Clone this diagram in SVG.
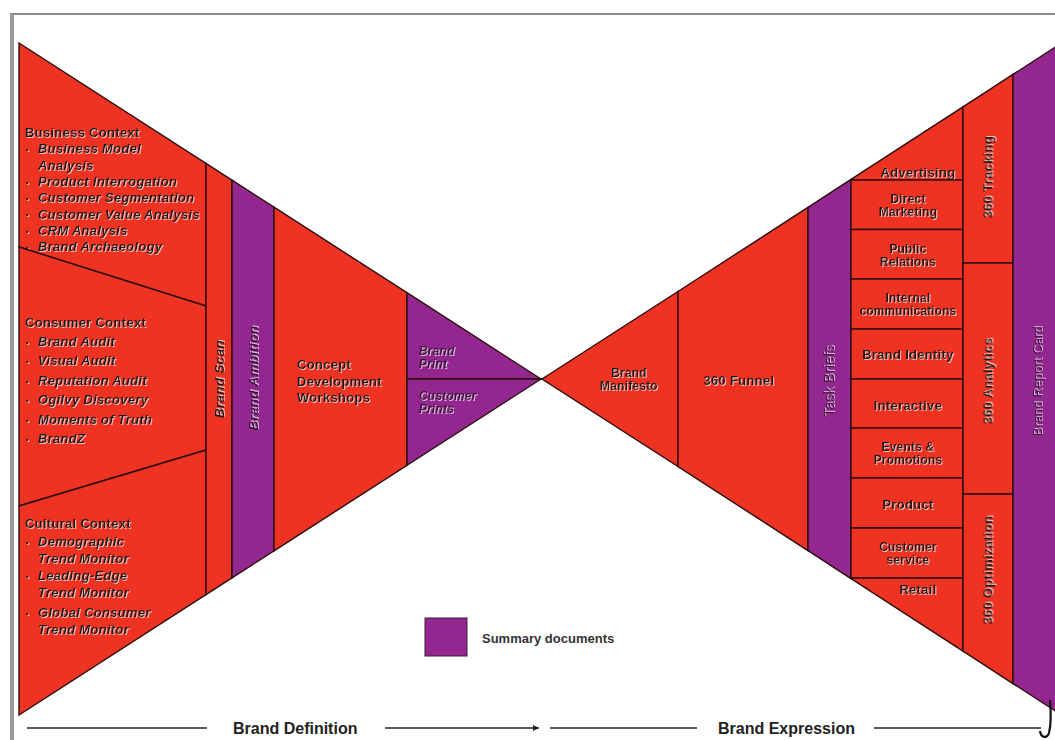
<svg xmlns="http://www.w3.org/2000/svg" width="1055" height="740" viewBox="0 0 1055 740">
<defs>
<style>
.r{fill:#EF3322;stroke:#2b0d0d;stroke-width:1.4;stroke-linejoin:miter}
.p{fill:#93278F;stroke:#2b0d0d;stroke-width:1.4}
.t{font-family:"Liberation Sans",Arial,sans-serif;font-weight:bold;font-size:13px;letter-spacing:0.3px;fill:#1c1414;filter:url(#sh)}
.s{font-size:12px;letter-spacing:0.2px}
.i{font-style:italic}
.c{text-anchor:middle}
.pt{fill:#3d0f3d}
.rg{font-weight:normal}
.b{font-size:8px}
.ln{stroke:#222;stroke-width:1.3;fill:none}
.lab{font-family:"Liberation Sans",Arial,sans-serif;font-weight:bold;font-size:16px;fill:#222}
</style>
<filter id="sh" x="-10%" y="-30%" width="120%" height="160%">
<feDropShadow dx="1" dy="1" stdDeviation="0.25" flood-color="#ffffff" flood-opacity="0.65"/>
</filter>
<marker id="ah" markerWidth="8" markerHeight="8" refX="6" refY="4" orient="auto" markerUnits="userSpaceOnUse">
<path d="M0,1 L6,4 L0,7 Z" fill="#222"/>
</marker>
</defs>
<rect x="0" y="0" width="1055" height="740" fill="#ffffff"/>
<g id="frame">
<line x1="10" y1="14" x2="1055" y2="14" stroke="#8a8a8a" stroke-width="2"/>
<line x1="12" y1="14" x2="12" y2="740" stroke="#9a9a9a" stroke-width="4"/>
</g>

<g id="business-context">
<polygon class="r" points="19,43 206,163.4 206,306 19,247"/>
<text class="t" x="25" y="137">Business Context</text>
<text class="t b" x="26" y="152">•</text><text class="t i" x="38" y="153.3">Business Model</text>
<text class="t i" x="38" y="169.6">Analysis</text>
<text class="t b" x="26" y="184.6">•</text><text class="t i" x="38" y="185.9">Product Interrogation</text>
<text class="t b" x="26" y="200.9">•</text><text class="t i" x="38" y="202.2">Customer Segmentation</text>
<text class="t b" x="26" y="217.2">•</text><text class="t i" x="38" y="218.5">Customer Value Analysis</text>
<text class="t b" x="26" y="233.5">•</text><text class="t i" x="38" y="234.8">CRM Analysis</text>
<text class="t b" x="26" y="249.8">•</text><text class="t i" x="38" y="251.1">Brand Archaeology</text>
</g>

<g id="consumer-context">
<polygon class="r" points="19,247 206,306 206,450 19,506"/>
<text class="t" x="25" y="327">Consumer Context</text>
<text class="t b" x="26" y="345">•</text><text class="t i" x="38" y="346">Brand Audit</text>
<text class="t b" x="26" y="364">•</text><text class="t i" x="38" y="365">Visual Audit</text>
<text class="t b" x="26" y="383.5">•</text><text class="t i" x="38" y="384.5">Reputation Audit</text>
<text class="t b" x="26" y="403">•</text><text class="t i" x="38" y="404">Ogilvy Discovery</text>
<text class="t b" x="26" y="422.5">•</text><text class="t i" x="38" y="423.5">Moments of Truth</text>
<text class="t b" x="26" y="442">•</text><text class="t i" x="38" y="443">BrandZ</text>
</g>

<g id="cultural-context">
<polygon class="r" points="19,506 206,450 206,594.6 19,715"/>
<text class="t" x="25" y="528">Cultural Context</text>
<text class="t b" x="26" y="545">•</text><text class="t i" x="38" y="546">Demographic</text>
<text class="t i" x="38" y="563">Trend Monitor</text>
<text class="t b" x="26" y="579">•</text><text class="t i" x="38" y="580">Leading-Edge</text>
<text class="t i" x="38" y="597">Trend Monitor</text>
<text class="t b" x="26" y="616">•</text><text class="t i" x="38" y="617">Global Consumer</text>
<text class="t i" x="38" y="634">Trend Monitor</text>
</g>

<g id="brand-scan">
<polygon class="r" points="206,163.4 232,180.1 232,577.9 206,594.6"/>
<text class="t i c" transform="translate(224,379) rotate(-90)" style="font-size:13.5px">Brand Scan</text>
</g>

<g id="brand-ambition">
<polygon class="p" points="232,180.1 274,207.1 274,550.9 232,577.9"/>
<text class="t i c pt" transform="translate(258,378) rotate(-90)" style="font-size:13.5px">Brand Ambition</text>
</g>

<g id="concept-development">
<polygon class="r" points="274,207.1 407,292.7 407,465.3 274,550.9"/>
<text class="t" x="297" y="369">Concept</text>
<text class="t" x="297" y="386">Development</text>
<text class="t" x="297" y="402">Workshops</text>
</g>

<g id="brand-print">
<polygon class="p" points="407,292.7 541,379 407,379"/>
<text class="t s i pt" x="419" y="355">Brand</text>
<text class="t s i pt" x="419" y="368">Print</text>
</g>

<g id="customer-prints">
<polygon class="p" points="407,379 541,379 407,465.3"/>
<text class="t s i pt" x="419" y="400">Customer</text>
<text class="t s i pt" x="419" y="413">Prints</text>
</g>

<g id="brand-manifesto">
<polygon class="r" points="542,379 678,291.5 678,466.5"/>
<text class="t s c" x="629" y="377">Brand</text>
<text class="t s c" x="629" y="390">Manifesto</text>
</g>

<g id="funnel-360">
<polygon class="r" points="678,291.5 808,207.3 808,550.7 678,466.5"/>
<text class="t c" x="739" y="384.5">360 Funnel</text>
</g>

<g id="task-briefs">
<polygon class="p" points="808,207.3 851,179.4 851,578.6 808,550.7"/>
<text class="t c pt rg" transform="translate(834,381) rotate(-90)" style="font-size:14px">Task Briefs</text>
</g>

<g id="advertising">
<polygon class="r" points="851,179.4 963,106.8 963,180 851,180"/>
<text class="t c" x="918" y="176.5">Advertising</text>
</g>
<g id="direct-marketing">
<rect class="r" x="851" y="180" width="112" height="49.5"/>
<text class="t s c" x="908" y="203">Direct</text>
<text class="t s c" x="908" y="216">Marketing</text>
</g>
<g id="public-relations">
<rect class="r" x="851" y="229.5" width="112" height="49.5"/>
<text class="t s c" x="908" y="252.5">Public</text>
<text class="t s c" x="908" y="265.5">Relations</text>
</g>
<g id="internal-communications">
<rect class="r" x="851" y="279" width="112" height="50"/>
<text class="t s c" x="908" y="302">Internal</text>
<text class="t s c" x="908" y="315" style="letter-spacing:0.1px">communications</text>
</g>
<g id="brand-identity">
<rect class="r" x="851" y="329" width="112" height="50"/>
<text class="t c" x="908" y="358.5">Brand Identity</text>
</g>
<g id="interactive">
<rect class="r" x="851" y="379" width="112" height="49"/>
<text class="t c" x="908" y="409.5">Interactive</text>
</g>
<g id="events-promotions">
<rect class="r" x="851" y="428" width="112" height="50"/>
<text class="t s c" x="908" y="451">Events &amp;</text>
<text class="t s c" x="908" y="464">Promotions</text>
</g>
<g id="product">
<rect class="r" x="851" y="478" width="112" height="50"/>
<text class="t c" x="908" y="508.5">Product</text>
</g>
<g id="customer-service">
<rect class="r" x="851" y="528" width="112" height="50"/>
<text class="t s c" x="908" y="551">Customer</text>
<text class="t s c" x="908" y="564">service</text>
</g>
<g id="retail">
<polygon class="r" points="851,578 963,578 963,651.2 851,578.6"/>
<text class="t c" x="918" y="593.5">Retail</text>
</g>

<g id="tracking-360">
<polygon class="r" points="963,106.8 1013,74.4 1013,263 963,263"/>
<text class="t c" transform="translate(992.5,177) rotate(-90)">360 Tracking</text>
</g>
<g id="analytics-360">
<rect class="r" x="963" y="263" width="50" height="231"/>
<text class="t c" transform="translate(992.5,381) rotate(-90)">360 Analytics</text>
</g>
<g id="optimization-360">
<polygon class="r" points="963,494 1013,494 1013,683.6 963,651.2"/>
<text class="t c" transform="translate(992.5,570) rotate(-90)">360 Optimization</text>
</g>

<g id="brand-report-card">
<polygon class="p" points="1013,74.4 1056,46.6 1056,711.4 1013,683.6"/>
<text class="t c pt rg" transform="translate(1042,381) rotate(-90)" style="font-size:12.5px">Brand Report Card</text>
</g>

<g id="legend">
<rect x="425" y="618" width="42" height="38" fill="#93278F" stroke="#3a1a3a" stroke-width="1"/>
<text x="482" y="642.5" style="font-family:'Liberation Sans',Arial,sans-serif;font-weight:bold;font-size:13px;fill:#333">Summary documents</text>
</g>

<g id="connectors">
<line class="ln" x1="27" y1="728" x2="207" y2="728"/>
<line class="ln" x1="385" y1="728" x2="539" y2="728" marker-end="url(#ah)"/>
<line class="ln" x1="550" y1="728" x2="697" y2="728"/>
<line class="ln" x1="874" y1="728" x2="1041" y2="728"/>
<path d="M1050,700 C1051,712 1051,725 1049,733 C1047,739 1041,738 1040,731" stroke="#111" stroke-width="2.2" fill="none"/>
</g>

<g id="labels">
<text class="lab" x="233" y="734">Brand Definition</text>
<text class="lab" x="718" y="734">Brand Expression</text>
</g>
</svg>
